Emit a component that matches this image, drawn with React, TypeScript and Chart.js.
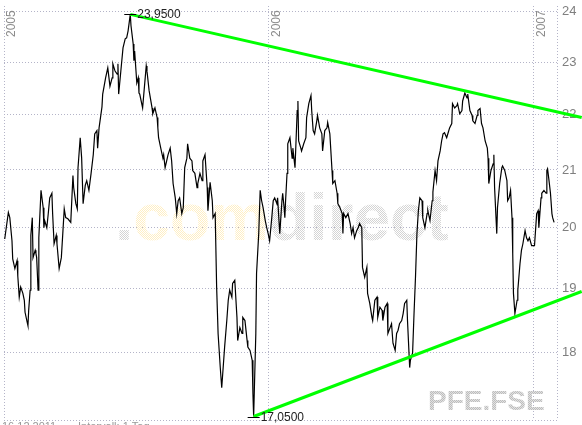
import React, { useEffect, useRef } from 'react';
import { Chart, registerables } from 'chart.js';

Chart.register(...registerables);

// days since 2005-01-01
const days = [
  1, 6, 8, 11, 12, 15, 18, 19, 21, 23, 26, 28, 29, 32, 33, 34, 36, 37, 39, 40,
  43, 44, 45, 47, 48, 51, 54, 55, 56, 59, 61, 63, 66, 67, 69, 72, 73, 76, 79, 81,
  83, 85, 88, 92, 95, 96, 99, 101, 102, 105, 107, 109, 112, 114, 117, 120, 123, 125, 128, 129,
  131, 135, 136, 140, 143, 146, 149, 150, 153, 156, 157, 158, 161, 164, 167, 169, 171, 174, 175, 178,
  179, 180, 183, 185, 186,
  187, 191, 196, 197, 200, 204, 205, 208, 211, 212, 213, 216, 219, 220, 222, 225, 226, 229, 231, 233,
  236, 238, 240, 242, 245, 247, 249, 252, 253, 256, 259, 260, 263, 266, 267, 270, 273, 274, 277, 280,
  281, 284, 287, 288, 291, 293, 295, 298, 300, 302, 304, 307, 309, 311, 314, 315, 318, 321, 322, 325,
  328, 329, 332, 335, 336, 339, 342, 343, 344, 347, 348, 351, 353, 355, 357, 360, 362, 364, 366, 369,
  371, 373, 376, 377,
  380, 383, 384, 386, 387, 388, 390, 391, 394, 397, 398, 401, 404, 405, 406, 409, 410, 413, 416, 417,
  420, 423, 424, 426, 428, 431, 432, 435, 438, 439, 442, 445, 446, 449, 452, 453, 456, 459, 460, 463,
  466, 467, 468, 471, 474, 477, 479, 481, 483, 486, 488, 490, 493, 494, 497, 500, 501, 504, 507, 508,
  511, 514, 515, 518, 521, 522, 525, 528, 529, 532, 534, 536, 539, 541, 543, 545, 548, 550, 552, 555,
  556, 559, 560, 563, 565, 567, 569, 571,
  573, 576, 577, 580, 583, 584, 587, 590, 591, 594, 596, 598, 601, 603, 605, 607, 610, 612, 614, 617,
  618, 621, 624, 625, 628, 631, 632, 635, 638, 639, 642, 645, 646, 649, 652, 653, 656, 658, 660, 663,
  666, 667, 668, 671, 674, 675, 676, 679, 680, 683, 686, 687, 690, 693, 694, 696, 698, 700, 701, 702,
  704, 707, 708, 711, 713, 715, 718, 720, 722, 724, 727, 729, 731, 734, 736, 737, 740, 741, 744, 747,
  748, 749, 751, 753, 755, 756, 758,
];

const prices = [
  19.81, 20.26, 20.17, 19.78, 19.48, 19.32, 19.45, 19.2, 18.86, 19.02, 18.92, 18.81, 18.62, 18.46, 18.41, 18.65, 18.97, 19.87, 20.17, 19.5,
  19.62, 19.57, 19.5, 18.97, 19.83, 20.64, 20.34, 20.0, 20.12, 20.0, 20.24, 20.51, 20.59, 20.24, 19.73, 19.87, 19.73, 19.32, 19.5, 19.9,
  20.32, 20.17, 20.15, 20.09, 20.9, 20.69, 20.41, 20.32, 21.04, 21.58, 21.21, 20.41, 20.73, 20.81, 20.64, 20.94, 21.27, 21.65, 21.71, 21.39,
  21.76, 22.15, 22.39, 22.7, 22.89, 22.54, 22.7, 22.97, 22.83, 22.77, 22.97, 22.39, 22.83, 23.28, 23.46, 23.48, 23.62, 23.95, 23.72, 23.36,
  23.03, 23.22, 22.6, 22.7, 22.41,
  22.39, 22.13, 22.93, 22.83, 22.45, 22.13, 22.02, 22.13, 21.95, 21.76, 21.58, 21.39, 21.21, 21.27, 21.04, 21.21, 21.27, 21.39, 21.16, 20.76,
  20.51, 20.24, 20.46, 20.51, 20.24, 20.34, 21.04, 21.21, 21.47, 21.21, 21.16, 20.99, 20.94, 20.69, 20.76, 20.94, 20.81, 21.16, 21.27, 20.69,
  20.29, 20.78, 20.46, 20.17, 20.24, 19.02, 18.29, 17.77, 17.47, 17.77, 18.08, 18.49, 18.81, 18.97, 18.86, 19.08, 19.13, 18.54, 18.18, 18.38,
  18.29, 18.54, 18.49, 18.18, 18.08, 18.03, 17.88, 17.39, 17.05, 18.29, 19.24, 19.9, 20.64, 20.46, 20.34, 20.12, 20.0, 19.9, 19.78, 20.17,
  20.46, 20.51, 20.41, 20.51,
  19.9, 20.46, 20.59, 20.34, 20.17, 20.46, 20.94, 21.47, 21.58, 21.21, 21.39, 21.04, 22.08, 22.26, 21.52, 21.39, 21.34, 21.47, 21.58, 21.95,
  22.21, 22.36, 22.08, 21.71, 21.65, 21.89, 21.99, 21.76, 21.65, 21.34, 21.71, 21.76, 21.86, 21.65, 20.99, 20.76, 20.81, 20.59, 20.41, 20.34,
  20.24, 19.9, 20.24, 20.17, 20.24, 20.07, 19.9, 20.0, 19.83, 19.95, 20.0, 20.07, 20.0, 19.34, 19.18, 19.34, 18.92, 18.76, 18.54, 18.49,
  18.81, 18.86, 18.54, 18.7, 18.65, 18.49, 18.7, 18.76, 18.29, 18.38, 18.44, 18.14, 18.03, 18.29, 18.34, 18.44, 18.49, 18.6, 18.76, 18.81,
  18.49, 17.77, 17.88, 17.99, 18.6, 19.18, 19.9, 20.29,
  20.51, 20.46, 20.17, 20.0, 20.24, 20.29, 20.12, 20.46, 20.61, 20.99, 20.81, 21.16, 21.34, 21.52, 21.65, 21.67, 21.58, 21.67, 21.76, 21.84,
  22.21, 22.13, 22.17, 22.21, 22.02, 22.08, 22.26, 22.41, 22.32, 22.39, 22.08, 21.99, 21.89, 21.84, 21.99, 22.08, 22.12, 21.84, 21.76, 21.52,
  21.39, 21.21, 20.76, 20.99, 21.11, 21.27, 20.69, 19.9, 20.34, 20.76, 21.04, 21.07, 20.99, 20.81, 20.46, 20.51, 20.64, 20.17, 19.57, 18.92,
  18.6, 18.81, 18.97, 19.4, 19.62, 19.73, 19.95, 19.83, 19.78, 19.83, 19.7, 19.7, 19.7, 20.24, 20.29, 20.0, 20.51, 20.59, 20.64, 20.59,
  20.99, 21.02, 20.81, 20.59, 20.24, 20.17, 20.09,
];

const yearTickDays = [0, 365, 730];
const yearLabels = ['2005', '2006', '2007'];
const axisEndDay = 762;
const priceTicks = [17, 18, 19, 20, 21, 22, 23, 24];
const priceMin = 17.0;
const priceMax = 24.12;

const upperTrendDays = [174, 796];
const upperTrendPrices = [23.95, 21.95];
const lowerTrendDays = [344, 796];
const lowerTrendPrices = [17.05, 18.95];

const symbol = 'PFE.FSE';
const watermarkParts = ['.', 'com', 'direct'];
const footerDate = '16.12.2011';
const footerInterval = 'Intervall: 1 Tag';

const FONT = '"Liberation Sans", Arial, sans-serif';

function makePattern(ctx: CanvasRenderingContext2D, a: string, b?: string) {
  const c = document.createElement('canvas');
  c.width = 2;
  c.height = 2;
  const g = c.getContext('2d')!;
  g.fillStyle = a;
  g.fillRect(0, 0, 1, 1);
  g.fillRect(1, 1, 1, 1);
  if (b) {
    g.fillStyle = b;
    g.fillRect(1, 0, 1, 1);
    g.fillRect(0, 1, 1, 1);
  }
  return ctx.createPattern(c, 'repeat') as CanvasPattern;
}

const decorPlugin = {
  id: 'decor',
  beforeDatasetsDraw(chart: any) {
    const ctx: CanvasRenderingContext2D = chart.ctx;
    const { left, right } = chart.chartArea;
    ctx.save();
    const grey = makePattern(ctx, '#d4d4d4');
    const yellow = makePattern(ctx, '#ffefc4');
    ctx.font = `bold 66px ${FONT}`;
    ctx.textAlign = 'left';
    ctx.textBaseline = 'alphabetic';
    let wx = left + 111;
    const fills = [grey, yellow, grey];
    watermarkParts.forEach((p, i) => {
      ctx.fillStyle = fills[i];
      ctx.fillText(p, wx, 240);
      wx += ctx.measureText(p).width;
    });
    ctx.font = `bold 28px ${FONT}`;
    ctx.fillStyle = makePattern(ctx, '#bdbdbd', '#e2e2e2');
    ctx.fillText(symbol, right - 129, 410);

    const xs = chart.scales.x;
    ctx.font = `12px ${FONT}`;
    ctx.fillStyle = '#8c8c8c';
    yearTickDays.forEach((d, i) => {
      const px = xs.getPixelForValue(d);
      ctx.save();
      ctx.translate(px + 11, 37);
      ctx.rotate(-Math.PI / 2);
      ctx.fillText(yearLabels[i], 0, 0);
      ctx.restore();
    });
    ctx.restore();
  },
  afterDatasetsDraw(chart: any) {
    const ctx: CanvasRenderingContext2D = chart.ctx;
    const xs = chart.scales.x;
    const ys = chart.scales.y;
    let iMax = 0;
    let iMin = 0;
    prices.forEach((p, i) => {
      if (p > prices[iMax]) iMax = i;
      if (p < prices[iMin]) iMin = i;
    });
    ctx.save();
    [iMax, iMin].forEach((i) => {
      const px = xs.getPixelForValue(days[i]);
      const py = Math.round(ys.getPixelForValue(prices[i]));
      ctx.strokeStyle = '#000';
      ctx.lineWidth = 1;
      ctx.beginPath();
      ctx.moveTo(px - 6, py + 0.5);
      ctx.lineTo(px + 6, py + 0.5);
      ctx.stroke();
      ctx.fillStyle = '#222';
      ctx.font = `12px ${FONT}`;
      ctx.textBaseline = 'middle';
      ctx.textAlign = 'left';
      ctx.fillText(prices[i].toFixed(4).replace('.', ','), px + 7, py + 1);
    });
    ctx.fillStyle = '#999';
    ctx.font = `11px ${FONT}`;
    ctx.textBaseline = 'alphabetic';
    ctx.fillText(footerDate, 2, 430);
    ctx.fillText(footerInterval, 78, 430);
    ctx.restore();
  },
};

export default function App() {
  const ref = useRef<HTMLCanvasElement>(null);
  useEffect(() => {
    const canvas = ref.current!;
    const gridColor = '#b4b4c8';
    const chart = new Chart(canvas, {
      type: 'line',
      data: {
        datasets: [
          {
            data: upperTrendDays.map((d, i) => ({ x: d, y: upperTrendPrices[i] })),
            borderColor: '#00ff00',
            borderWidth: 3,
            pointRadius: 0,
            clip: false as any,
          },
          {
            data: lowerTrendDays.map((d, i) => ({ x: d, y: lowerTrendPrices[i] })),
            borderColor: '#00ff00',
            borderWidth: 3,
            pointRadius: 0,
            clip: false as any,
          },
          {
            data: days.map((d, i) => ({ x: d, y: prices[i] })),
            borderColor: '#000000',
            borderWidth: 1.2,
            pointRadius: 0,
            tension: 0,
          },
        ],
      },
      options: {
        animation: false,
        responsive: false,
        devicePixelRatio: 1,
        layout: { padding: { left: 4, top: 6, right: 0, bottom: 5 } },
        plugins: { legend: { display: false }, tooltip: { enabled: false } },
        scales: {
          x: {
            type: 'linear',
            position: 'top',
            min: 0,
            max: axisEndDay,
            afterBuildTicks: (s: any) => {
              s.ticks = [...yearTickDays, axisEndDay].map((v) => ({ value: v }));
            },
            afterFit: (s: any) => {
              s.height = 0;
              s.paddingLeft = 0;
              s.paddingRight = 0;
              s.paddingTop = 0;
              s.paddingBottom = 0;
            },
            ticks: { display: false },
            grid: { color: gridColor, lineWidth: 1, drawTicks: false },
            border: { display: false, dash: [1, 2] },
          },
          y: {
            type: 'logarithmic',
            position: 'right',
            min: priceMin,
            max: priceMax,
            afterBuildTicks: (s: any) => {
              s.ticks = priceTicks.map((v) => ({ value: v }));
            },
            afterFit: (s: any) => {
              s.width = 25;
              s.paddingTop = 0;
              s.paddingBottom = 0;
              s.paddingLeft = 0;
              s.paddingRight = 0;
            },
            ticks: {
              padding: 5,
              color: '#7f7f7f',
              font: { family: FONT, size: 13 },
              autoSkip: false,
              callback: (v: any) => (v === priceMin ? '' : String(v)),
            },
            grid: { color: gridColor, lineWidth: 1, drawTicks: false },
            border: { display: false, dash: [1, 2] },
          },
        },
      },
      plugins: [decorPlugin],
    });
    return () => chart.destroy();
  }, []);
  return (
    <div style={{ position: 'fixed', left: 0, top: 0, width: 582, height: 425, background: '#fff' }}>
      <canvas ref={ref} width={582} height={425} style={{ width: 582, height: 425, display: 'block' }} />
    </div>
  );
}
